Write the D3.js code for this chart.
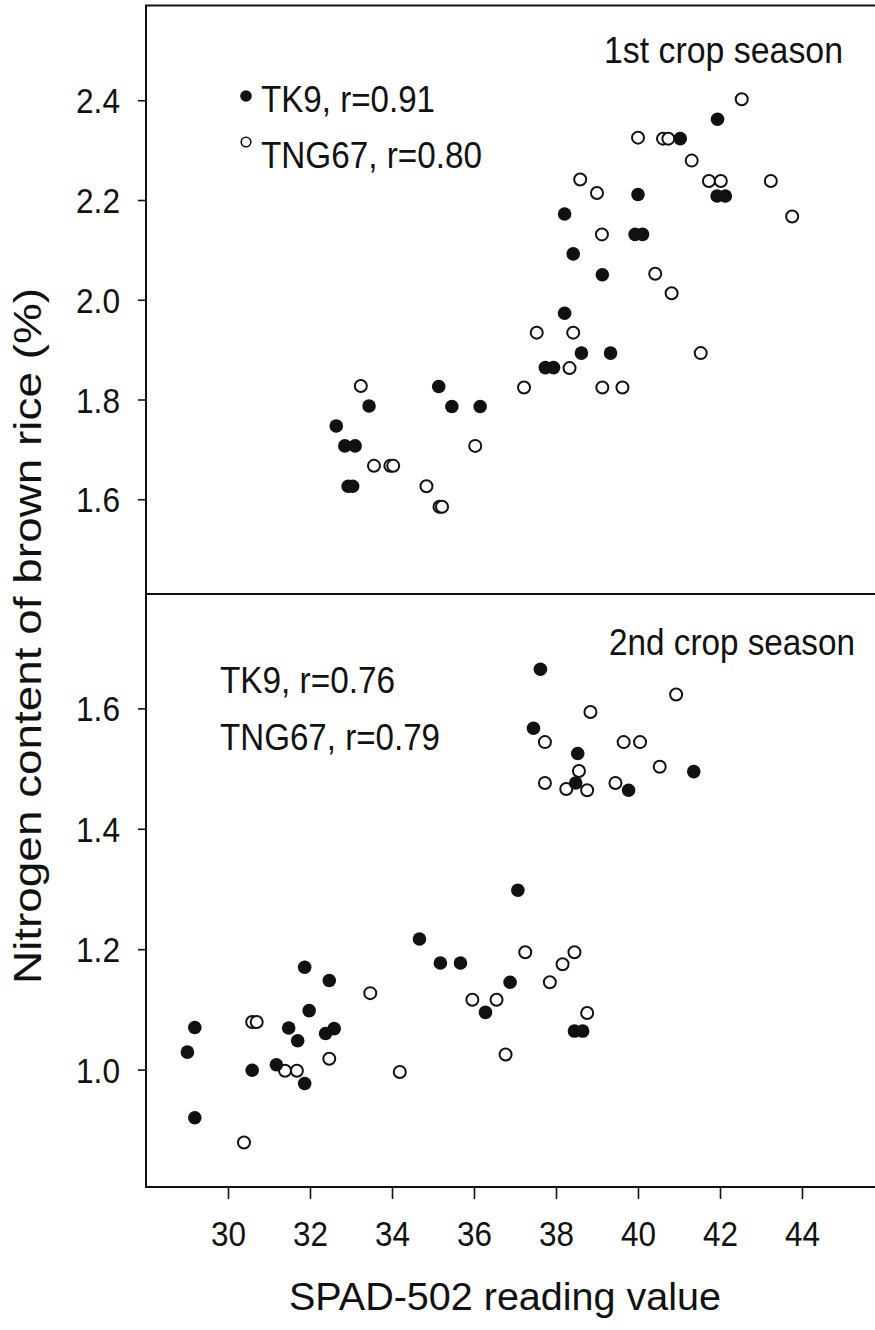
<!DOCTYPE html>
<html>
<head>
<meta charset="utf-8">
<script src="https://cdn.jsdelivr.net/npm/d3@7/dist/d3.min.js"></script>
<style>
  html, body { margin: 0; padding: 0; background: #fff; }
  svg { display: block; }
  text { font-family: "Liberation Sans", Arial, Helvetica, sans-serif; fill: #111; }
</style>
</head>
<body>
<svg id="chart" width="875" height="1330"></svg>
<script>
// SPAD-502 reading (x) vs nitrogen content of brown rice, % (y)
// 1st crop season
const season1TK9 = [
  [41.94, 2.362], [41.03, 2.323], [40.00, 2.211], [41.93, 2.208], [42.13, 2.208],
  [38.21, 2.172], [39.93, 2.131], [40.11, 2.131], [38.42, 2.092], [39.13, 2.050],
  [38.21, 1.973], [38.62, 1.893], [39.33, 1.893], [37.74, 1.864], [37.94, 1.864],
  [35.14, 1.826], [33.44, 1.787], [35.46, 1.786], [36.15, 1.786], [32.64, 1.747],
  [32.85, 1.707], [33.10, 1.707], [32.93, 1.626], [33.04, 1.626]
];
const season1TNG67 = [
  [42.53, 2.402], [40.00, 2.325], [40.61, 2.323], [40.74, 2.323], [41.31, 2.279],
  [38.59, 2.241], [39.00, 2.214], [41.73, 2.238], [42.02, 2.238], [43.24, 2.238],
  [43.76, 2.167], [39.12, 2.131], [40.42, 2.052], [40.82, 2.013], [37.53, 1.934],
  [38.42, 1.934], [41.53, 1.893], [38.33, 1.863], [37.22, 1.824], [39.13, 1.824],
  [39.62, 1.824], [33.24, 1.827], [36.03, 1.707], [33.56, 1.667], [33.96, 1.667],
  [34.03, 1.667], [34.84, 1.626], [35.16, 1.585], [35.22, 1.585]
];
// 2nd crop season
const season2TK9 = [
  [37.62, 1.665], [37.45, 1.567], [38.53, 1.525], [41.36, 1.495], [38.48, 1.476],
  [39.77, 1.464], [37.07, 1.298], [34.67, 1.217], [35.18, 1.177], [35.67, 1.177],
  [31.87, 1.170], [32.47, 1.148], [36.88, 1.145], [31.98, 1.098], [36.28, 1.095],
  [29.19, 1.070], [31.48, 1.069], [32.59, 1.068], [32.38, 1.060], [31.70, 1.048],
  [38.45, 1.064], [38.65, 1.064], [29.01, 1.029], [30.59, 0.999], [31.18, 1.008],
  [31.87, 0.977], [29.19, 0.920]
];
const season2TNG67 = [
  [40.93, 1.623], [38.84, 1.594], [37.73, 1.544], [39.65, 1.544], [40.05, 1.544],
  [38.56, 1.496], [40.53, 1.503], [37.73, 1.476], [38.25, 1.466], [38.76, 1.464],
  [39.45, 1.476], [37.25, 1.195], [38.45, 1.195], [38.16, 1.175], [37.85, 1.145],
  [33.47, 1.127], [35.96, 1.116], [36.55, 1.116], [38.76, 1.094], [30.59, 1.079],
  [30.70, 1.079], [32.47, 1.018], [36.77, 1.025], [31.39, 0.998], [31.68, 0.998],
  [34.19, 0.996], [30.39, 0.879]
];

const xTicks = [30, 32, 34, 36, 38, 40, 42, 44];
const yTicksTop = [1.6, 1.8, 2.0, 2.2, 2.4];
const yTicksBottom = [1.0, 1.2, 1.4, 1.6];

const panelTitles = ["1st crop season", "2nd crop season"];
const legendTop = ["TK9, r=0.91", "TNG67, r=0.80"];
const legendBottom = ["TK9, r=0.76", "TNG67, r=0.79"];
const xTitle = "SPAD-502 reading value";
const yTitle = "Nitrogen content of brown rice (%)";

const svg = d3.select("#chart");
const frameL = 146, frameR = 884, frameT = 5.5, frameMid = 594, frameB = 1187;

const x = d3.scaleLinear().domain([28, 46]).range([frameL, frameR]);
const yTop = d3.scaleLinear().domain([1.41, 2.59]).range([frameMid, frameT]);
const yBot = d3.scaleLinear().domain([0.805, 1.79]).range([frameB, frameMid]);

const ink = "#111";

// frame around both panels plus the divider between them
const frame = svg.append("g").attr("stroke", ink).attr("stroke-width", 2).attr("fill", "none");
frame.append("rect").attr("x", frameL).attr("y", frameT)
  .attr("width", frameR - frameL).attr("height", frameB - frameT);
frame.append("line").attr("x1", frameL).attr("x2", frameR).attr("y1", frameMid).attr("y2", frameMid);

// y axes
function yAxis(scale, ticks) {
  const g = svg.append("g").attr("transform", `translate(${frameL},0)`)
    .call(d3.axisLeft(scale).tickValues(ticks).tickSize(8).tickPadding(18)
      .tickFormat(d3.format(".1f")));
  g.select(".domain").remove();
  g.selectAll(".tick line").attr("stroke", ink).attr("stroke-width", 1.6);
  g.selectAll(".tick text").attr("font-size", 35).attr("fill", ink)
    .style("font-family", '"Liberation Sans", Arial, sans-serif').attr("dy", "0.36em")
    .attr("textLength", 44).attr("lengthAdjust", "spacingAndGlyphs");
}
yAxis(yTop, yTicksTop);
yAxis(yBot, yTicksBottom);

// x axis
const gx = svg.append("g").attr("transform", `translate(0,${frameB})`)
  .call(d3.axisBottom(x).tickValues(xTicks).tickSize(12).tickPadding(22).tickFormat(d3.format("d")));
gx.select(".domain").remove();
gx.selectAll(".tick line").attr("stroke", ink).attr("stroke-width", 1.6);
gx.selectAll(".tick text").attr("font-size", 35).attr("fill", ink)
  .style("font-family", '"Liberation Sans", Arial, sans-serif').attr("dy", "0.71em")
  .attr("textLength", 35).attr("lengthAdjust", "spacingAndGlyphs");

// axis titles
svg.append("text").attr("x", 505).attr("y", 1310).attr("text-anchor", "middle")
  .attr("font-size", 38).attr("textLength", 432).attr("lengthAdjust", "spacingAndGlyphs")
  .text(xTitle);
svg.append("text").attr("transform", "translate(41,636) rotate(-90)").attr("text-anchor", "middle")
  .attr("font-size", 39).attr("textLength", 696).attr("lengthAdjust", "spacingAndGlyphs")
  .text(yTitle);

// points
function drawPoints(data, yScale, filled) {
  const g = svg.append("g");
  g.selectAll("circle").data(data).join("circle")
    .attr("cx", d => x(d[0])).attr("cy", d => yScale(d[1]))
    .attr("r", filled ? 6.8 : 6)
    .attr("fill", filled ? ink : "#fff")
    .attr("stroke", ink).attr("stroke-width", filled ? 0 : 2);
}
drawPoints(season1TNG67, yTop, false);
drawPoints(season1TK9, yTop, true);
drawPoints(season2TNG67, yBot, false);
drawPoints(season2TK9, yBot, true);

// panel annotations
function label(str, xPos, yPos, width) {
  svg.append("text").attr("x", xPos).attr("y", yPos).attr("font-size", 36)
    .attr("textLength", width).attr("lengthAdjust", "spacingAndGlyphs").text(str);
}
label(panelTitles[0], 604, 63, 239);
label(panelTitles[1], 609, 655, 246);
label(legendTop[0], 261, 112, 174);
label(legendTop[1], 261, 168, 221);
label(legendBottom[0], 220, 693, 175);
label(legendBottom[1], 220, 750, 220);

// legend symbols for the 1st season panel
svg.append("circle").attr("cx", 246).attr("cy", 96).attr("r", 5.8).attr("fill", ink);
svg.append("circle").attr("cx", 246).attr("cy", 142).attr("r", 4.8)
  .attr("fill", "#fff").attr("stroke", ink).attr("stroke-width", 1.6);
</script>
</body>
</html>
